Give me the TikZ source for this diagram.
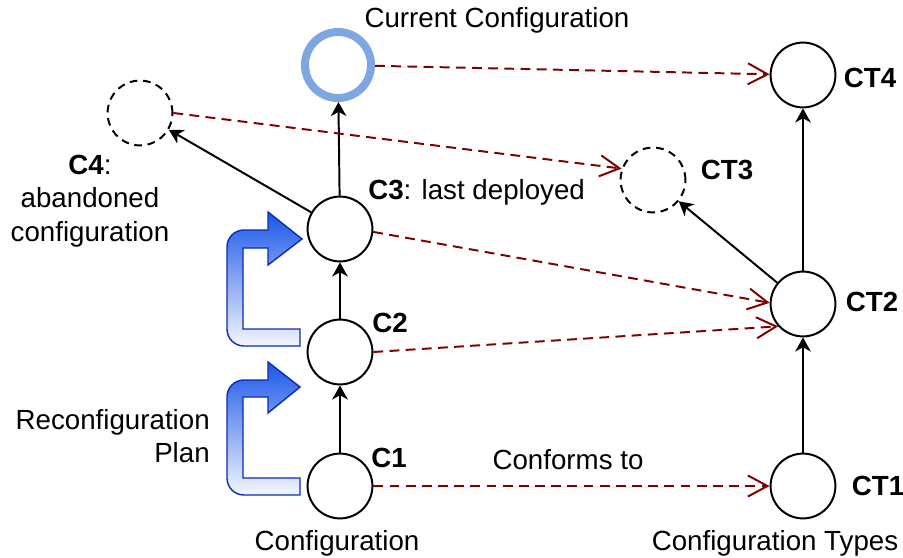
\documentclass[tikz,border=0pt]{standalone}
\usepackage{fontspec}
\setmainfont{Liberation Sans}
\usetikzlibrary{arrows.meta}
\definecolor{darkred}{HTML}{800000}
\definecolor{ringblue}{HTML}{7EA6E0}
\definecolor{planblue}{HTML}{1A56E8}
\definecolor{planedge}{HTML}{0B2BB5}

\begin{document}
\begin{tikzpicture}[x=0.025cm, y=-0.025cm,
    font=\fontsize{19.7}{24}\selectfont,
    conf/.style={circle, draw, line width=1.4pt, minimum size=1.62cm, inner sep=0pt},
    gone/.style={conf, dash pattern=on 5.5pt off 4pt},
    txt/.style={inner sep=0pt},
    lbl/.style={txt, font=\fontsize{19.7}{24}\selectfont\bfseries},
    evolves/.style={line width=1.4pt, -{Stealth[length=10pt, width=11pt, inset=3pt]}},
    conforms/.style={darkred, line width=1.4pt, dash pattern=on 7pt off 4.5pt, -{Straight Barb[length=14pt, width=15pt]}},
    plan/.style={draw=planedge, line width=1pt, top color=planblue, bottom color=planblue!5}]
    \useasboundingbox (0,0) rectangle (903,558);

    % configurations
    \node[conf] (c1) at (340,486) {};
    \node[conf] (c2) at (340,352) {};
    \node[conf] (c3) at (340,229) {};
    \node[conf, draw=ringblue, line width=5.7pt, minimum size=1.65cm] (cur) at (338,65) {};
    \node[gone] (c4) at (140,113) {};
    % configuration types
    \node[conf] (ct1) at (803,486) {};
    \node[conf] (ct2) at (803,304) {};
    \node[gone] (ct3) at (653,180) {};
    \node[conf] (ct4) at (803,75) {};

    % labels
    \node[lbl] (lc1) at (389,458) {C1};
    \node[lbl] (lc2) at (390,323) {C2};
    \node[txt, anchor=west] (lc3) at (368,192) {\textbf{C3}: last deployed};
    \node[txt, align=center] (lc4) at (90,201) {\textbf{C4}:\\abandoned\\configuration};
    \node[lbl] (lct1) at (878,486) {CT1};
    \node[lbl] (lct2) at (872,302) {CT2};
    \node[lbl] (lct3) at (727,170) {CT3};
    \node[lbl] (lct4) at (870,78) {CT4};
    \node[txt] (lcur) at (497,20) {Current Configuration};
    \node[txt, align=right, anchor=east] (lplan) at (210,436) {Reconfiguration\\Plan};
    \node[txt] (lconf) at (337,543) {Configuration};
    \node[txt] (ltypes) at (775,543) {Configuration Types};
    \node[txt] (lconforms) at (568,460) {Conforms to};

    % reconfiguration plans
    \draw[plan] (300,478) -- (243,478) -- (243,397) -- (268,397) -- (268,413) -- (300,387)
        -- (268,362) -- (268,380) [rounded corners=12] -- (227,380) -- (227,495)
        [sharp corners] -- (300,495) -- cycle;
    \draw[plan] (300,329) -- (243,329) -- (243,248) -- (268,248) -- (268,265) -- (302,239)
        -- (268,212) -- (268,230) [rounded corners=12] -- (227,230) -- (227,346)
        [sharp corners] -- (300,346) -- cycle;

    % evolution
    \draw[evolves] (c1) -- (c2);
    \draw[evolves] (c2) -- (c3);
    \draw[evolves] (c3) -- (cur);
    \draw[evolves] (c3) -- (c4);
    \draw[evolves] (ct1) -- (ct2);
    \draw[evolves] (ct2) -- (ct4);
    \draw[evolves] (ct2) -- (ct3);

    % conformance
    \draw[conforms] (cur) -- (ct4);
    \draw[conforms] (c4.east) -- (ct3.160);
    \draw[conforms] (c3.-5) -- (ct2.178);
    \draw[conforms] (c2.east) -- (ct2.222);
    \draw[conforms] (c1) -- (ct1);
\end{tikzpicture}
\end{document}
